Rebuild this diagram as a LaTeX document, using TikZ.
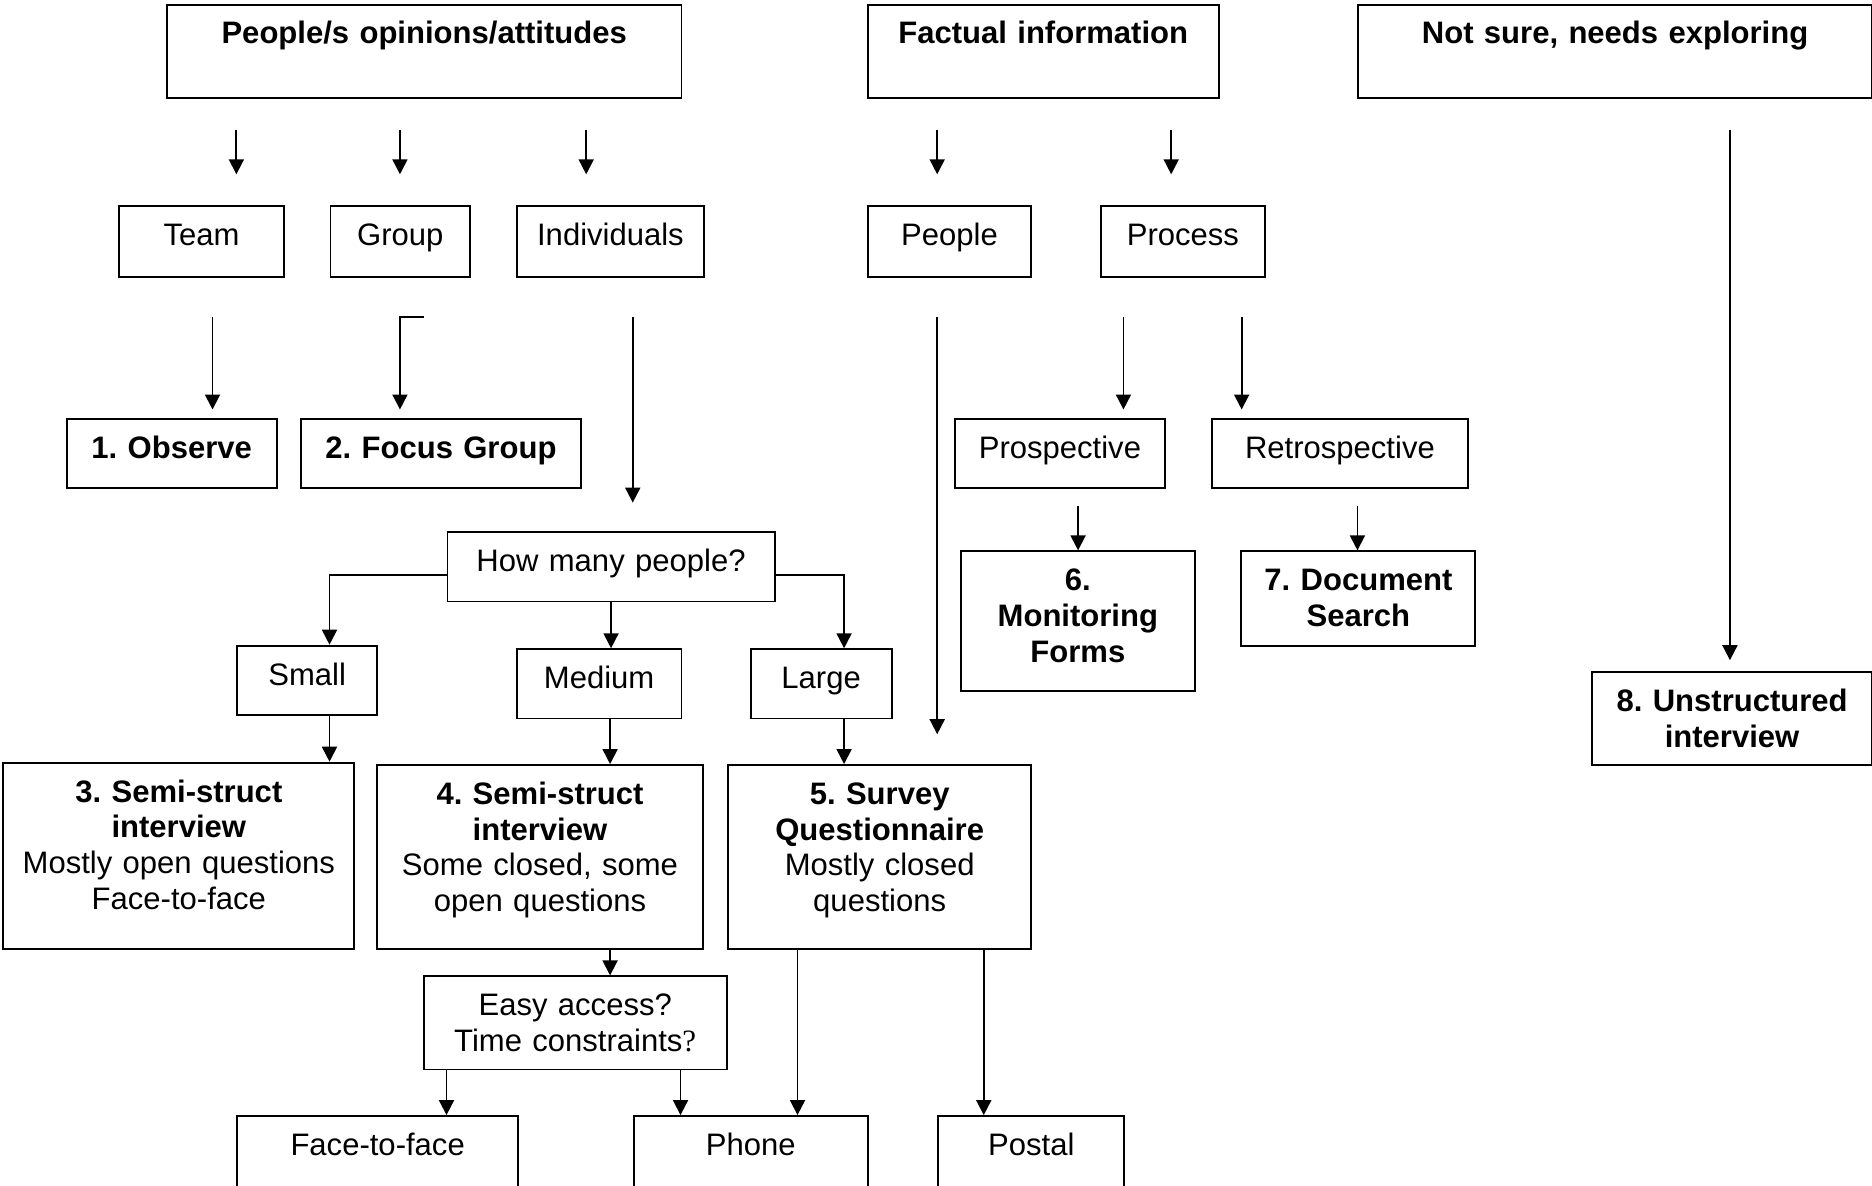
\documentclass[tikz,border=0pt]{standalone}
\usepackage{fontspec}
\setmainfont{Liberation Sans}
\newfontfamily\timesq{Liberation Serif}
\usetikzlibrary{arrows.meta, positioning, calc}
\def\pxu{0.4615pt}

\begin{document}
\frenchspacing
\fontsize{12pt}{13.8pt}\selectfont
\begin{tikzpicture}[x=\pxu, y=-\pxu,
    box/.style 2 args={draw, line width=0.75pt, inner sep=0pt, anchor=north west,
        align=center, text width=#1*\pxu, text height=33*\pxu, text depth=(#2-33)*\pxu},
    arr/.style={line width=0.7pt, -{Triangle[length=5.8pt, width=5.8pt]}},
    gap/.style 2 args={shorten <=#1*\pxu, shorten >=#2*\pxu}]
    \useasboundingbox (0,0) rectangle (1568,993);

    \node[box={431}{78}] (opin) at (139,3) {\textbf{People/s opinions/attitudes}};
    \node[box={294}{78}] (fact) at (726,3) {\textbf{Factual information}};
    \node[box={430}{78}] (unsure) at (1137,3) {\textbf{Not sure, needs exploring}};

    \node[box={138}{59}] (team) at (99,172) {Team};
    \node[box={117}{59}] (group) at (276,172) {Group};
    \node[box={157}{59}] (indiv) at (432,172) {Individuals};
    \node[box={137}{59}] (people) at (726,172) {People};
    \node[box={138}{59}] (process) at (921,172) {Process};

    \node[box={176}{58}] (observe) at (55,350) {\textbf{1. Observe}};
    \node[box={235}{58}] (focus) at (251,350) {\textbf{2. Focus Group}};
    \node[box={176}{58}] (prosp) at (799,350) {Prospective};
    \node[box={215}{58}] (retro) at (1014,350) {Retrospective};

    \node[box={274}{58}] (howmany) at (374,445) {How many people?};
    \node[box={196}{117}] (monitor) at (804,461) {\textbf{6.}\\\textbf{Monitoring}\\\textbf{Forms}};
    \node[box={196}{79}] (docsearch) at (1039,461) {\textbf{7. Document}\\\textbf{Search}};
    \node[box={117}{58}] (small) at (198,540) {Small};
    \node[box={138}{58}] (medium) at (432,543) {Medium};
    \node[box={118}{58}] (large) at (628,543) {Large};
    \node[box={234}{78}] (unstruct) at (1333,562) {\textbf{8. Unstructured}\\\textbf{interview}};

    \node[box={294}{156}] (semi3) at (2,638) {\textbf{3. Semi-struct}\\\textbf{interview}\\Mostly open questions\\Face-to-face};
    \node[box={273}{154}] (semi4) at (315,640) {\textbf{4. Semi-struct}\\\textbf{interview}\\Some closed, some\\open questions};
    \node[box={254}{154}] (survey) at (609,640) {\textbf{5. Survey}\\\textbf{Questionnaire}\\Mostly closed\\questions};
    \node[box={254}{78}] (access) at (354,817) {Easy access?\\Time constraints{\timesq ?}};

    \node[box={235}{70}] (facetoface) at (198,934) {Face-to-face};
    \node[box={196}{70}] (phone) at (530,934) {Phone};
    \node[box={156}{70}] (postal) at (785,934) {Postal};

    \draw[arr, gap={26}{26}] (opin.south -| 198,0) -- (team.north -| 198,0);
    \draw[arr, gap={26}{26}] (opin.south -| 335,0) -- (group.north -| 335,0);
    \draw[arr, gap={26}{26}] (opin.south -| 491,0) -- (indiv.north -| 491,0);
    \draw[arr, gap={26}{26}] (fact.south -| 785,0) -- (people.north -| 785,0);
    \draw[arr, gap={26}{26}] (fact.south -| 981,0) -- (process.north -| 981,0);
    \draw[arr, gap={26}{9}] (unsure.south -| 1449,0) -- (unstruct.north -| 1449,0);

    \draw[arr, gap={33}{7}] (team.south -| 178,0) -- (observe.north -| 178,0);
    \draw[arr, gap={0}{7}] ($(group.south -| 355,0)+(0,33)$) -| (focus.north -| 335,0);
    \draw[arr, gap={33}{24}] (indiv.south -| 530,0) -- (howmany.north -| 530,0);
    \draw[arr, gap={33}{25}] (people.south -| 785,0) -- (survey.north -| 785,0);
    \draw[arr, gap={33}{7}] (process.south -| 941,0) -- (prosp.north -| 941,0);
    \draw[arr, gap={33}{7}] (process.south -| 1040,0) -- (retro.north -| 1040,0);
    \draw[arr, gap={14}{0}] (prosp.south -| 903,0) -- (monitor.north -| 903,0);
    \draw[arr, gap={14}{0}] (retro.south -| 1137,0) -- (docsearch.north -| 1137,0);

    \draw[arr] ($(howmany.west)+(0,7)$) -| (small.north -| 276,0);
    \draw[arr] (howmany.south) -- (medium.north -| howmany.south);
    \draw[arr] ($(howmany.east)+(0,7)$) -| (large.north -| 707,0);
    \draw[arr] (small.south -| 276,0) -- (semi3.north -| 276,0);
    \draw[arr] (medium.south -| 511,0) -- (semi4.north -| 511,0);
    \draw[arr] (large.south -| 707,0) -- (survey.north -| 707,0);

    \draw[arr] (semi4.south -| 511,0) -- (access.north -| 511,0);
    \draw[arr] (access.south -| 374,0) -- (facetoface.north -| 374,0);
    \draw[arr] (access.south -| 570,0) -- (phone.north -| 570,0);
    \draw[arr] (survey.south -| 668,0) -- (phone.north -| 668,0);
    \draw[arr] (survey.south -| 824,0) -- (postal.north -| 824,0);
\end{tikzpicture}
\end{document}
